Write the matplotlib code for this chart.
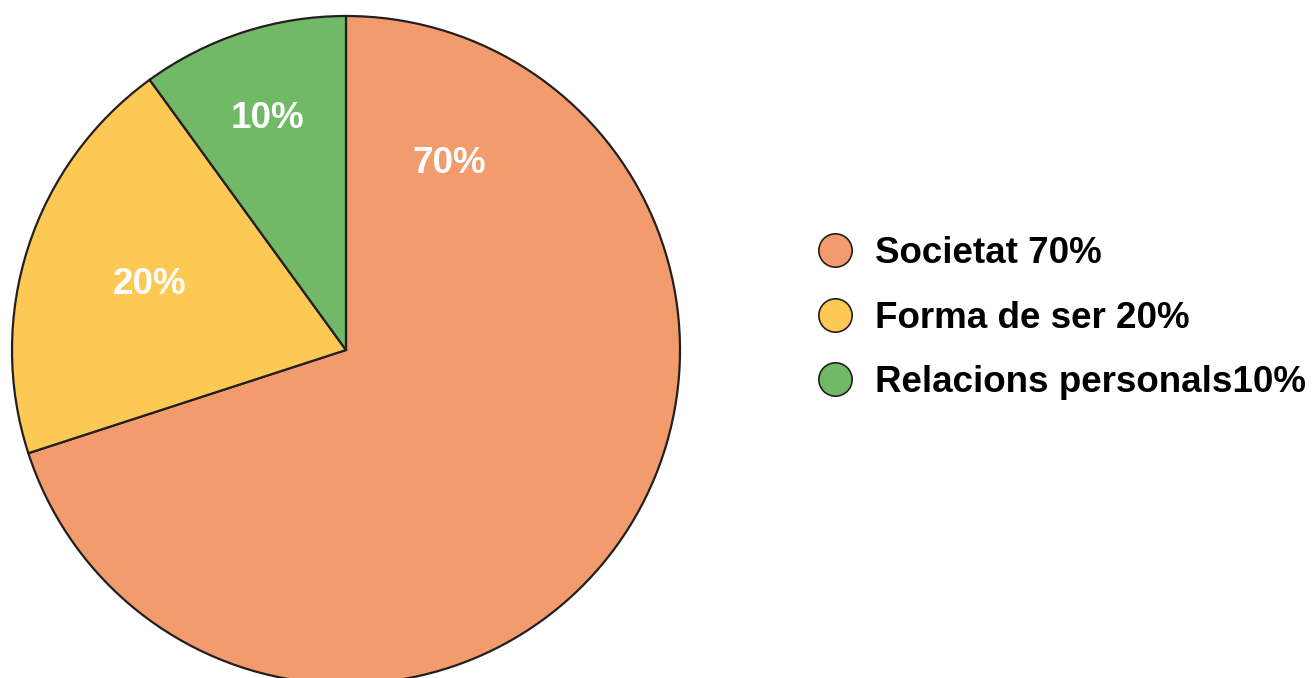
import matplotlib.pyplot as plt
from matplotlib.lines import Line2D

# dades del gràfic
categories = ["Societat", "Forma de ser", "Relacions personals"]
values = [70, 20, 10]
legend_labels = ["Societat 70%", "Forma de ser 20%", "Relacions personals10%"]
pct_labels = ["70%", "20%", "10%"]
colors = ["#F29B6C", "#FDC955", "#71B867"]

plt.rcParams["font.family"] = ["Liberation Sans", "DejaVu Sans"]

W, H = 1314, 678
fig = plt.figure(figsize=(W / 100, H / 100), dpi=100)

# eix col·locat perquè el centre sigui a (346, 350) px i radi 334 px
cx, cy, r = 346, 350, 334
ax = fig.add_axes([(cx - r) / W, (H - cy - r) / H, 2 * r / W, 2 * r / H])

wedges, _ = ax.pie(values, colors=colors, startangle=90, counterclock=False,
                   radius=1, wedgeprops=dict(edgecolor="#231F20", linewidth=1.6))
for w in wedges:
    w.set_clip_on(False)

ax.set_xlim(-1, 1)
ax.set_ylim(-1, 1)
ax.set_aspect("equal")
ax.axis("off")

# posicions de les etiquetes dins el pastís (fracció del radi)
label_pos = [(0.308, 0.557), (-0.587, 0.195), (-0.234, 0.692)]
for (x, y), txt in zip(label_pos, pct_labels):
    ax.text(x, y, txt, color="white", fontsize=26.5, fontweight="bold",
            ha="center", va="center")

handles = [Line2D([], [], marker="o", linestyle="none", markersize=24,
                  markerfacecolor=c, markeredgecolor="#231F20", markeredgewidth=1.2)
           for c in colors]
fig.legend(handles, legend_labels, loc="center left",
           bbox_to_anchor=(817 / W, 1 - 318 / H), frameon=False,
           prop=dict(size=26.5, weight="bold"), handletextpad=0.57,
           labelspacing=0.8, handlelength=1.0, borderpad=0, borderaxespad=0)

fig.savefig("out.png", dpi=100)
